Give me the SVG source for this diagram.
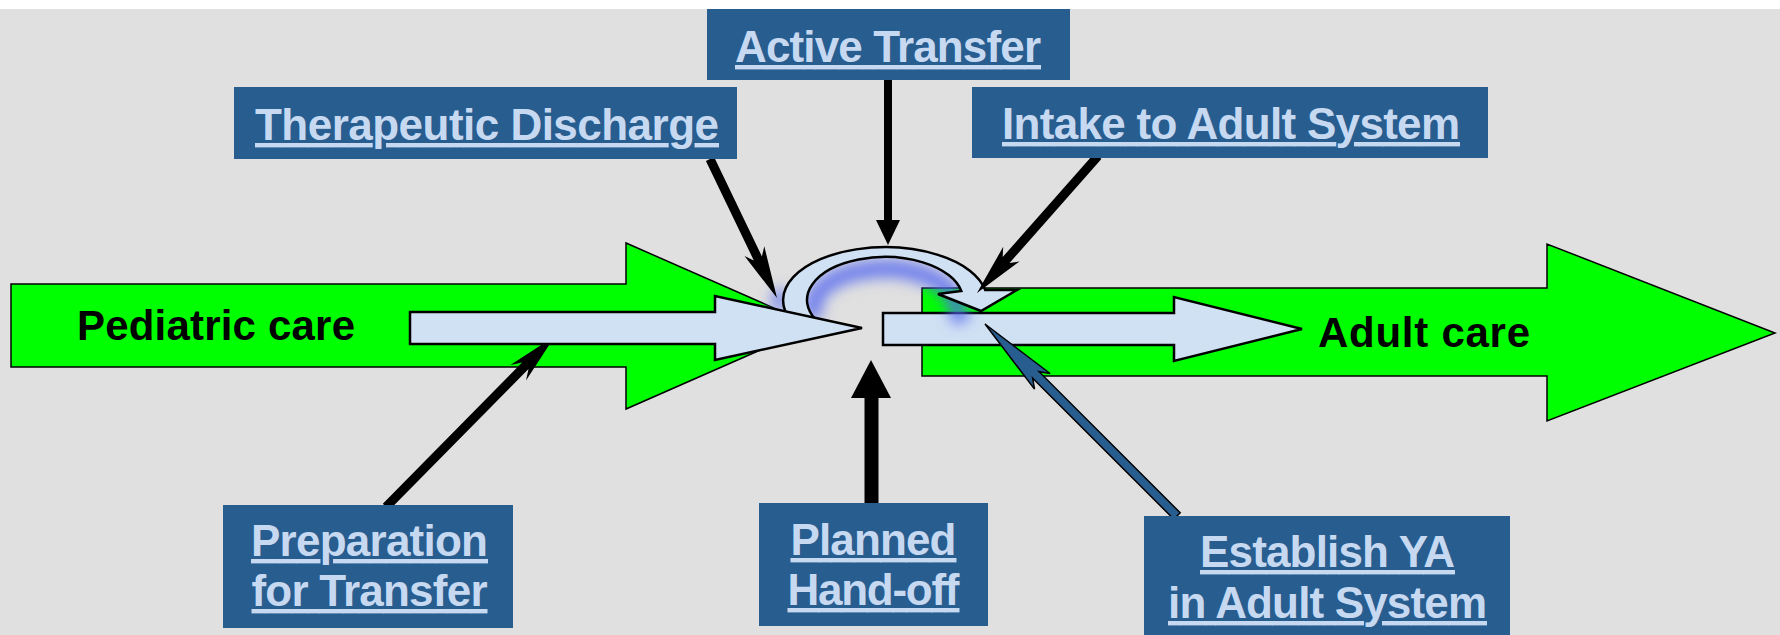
<svg xmlns="http://www.w3.org/2000/svg" width="1780" height="635" viewBox="0 0 1780 635">
  <style>
    .box { fill: #285d8f; }
    .lbl { font-family: "Liberation Sans", Arial, sans-serif; font-weight: bold; font-size: 44px; fill: #c6d9f1; text-anchor: middle; text-decoration: underline; }
    .care { font-family: "Liberation Sans", Arial, sans-serif; font-weight: bold; font-size: 42px; fill: #000000; }
    .green { fill: #00ff00; stroke: #000000; stroke-width: 1.5; stroke-linejoin: miter; }
    .pale { fill: #d0e1f3; stroke: #000000; stroke-width: 2.5; stroke-linejoin: miter; }
    .conn { fill: #000000; stroke: none; }
    .conn-blue { fill: #285d8f; stroke: #000000; stroke-width: 1.5; stroke-linejoin: miter; }
  </style>
  <defs>
    <filter id="soft" x="-40%" y="-40%" width="180%" height="180%">
      <feGaussianBlur stdDeviation="7"/>
    </filter>
  </defs>

  <!-- backdrop -->
  <rect x="0" y="0" width="1780" height="635" fill="#ffffff"/>
  <rect x="0" y="9" width="1780" height="626" fill="#e0e0e0"/>

  <!-- care pathways -->
  <g id="pediatric-care">
    <polygon class="green" points="11,284 626,284 626,243 815,326 626,409 626,367 11,367"/>
    <text class="care" x="77" y="340" textLength="278">Pediatric care</text>
  </g>
  <g id="adult-care">
    <polygon class="green" points="922,288 1547,288 1547,244 1775,333 1547,421 1547,376 922,376"/>
    <text class="care" x="1318" y="347" textLength="212">Adult care</text>
  </g>

  <!-- transfer flow -->
  <g id="adult-flow">
    <polygon class="pale" points="883,313 1174,313 1174,297 1302,329 1174,361 1174,345 883,345"/>
  </g>
  <g id="handoff-glow" filter="url(#soft)">
    <path d="M 816,318 A 71 38 0 1 1 953,296 L 962,322" fill="none" stroke="#5468f0" stroke-width="18" stroke-opacity="0.8"/>
    <ellipse cx="779" cy="300" rx="7" ry="12" fill="#5468f0" fill-opacity="0.8"/>
  </g>
  <g id="u-turn">
    <path class="pale" d="M 790.5,320 A 102 53 0 1 1 985.2,290 L 1017,290 L 981,311 L 938,294 L 961.3,291 A 78 43 0 1 0 816,320 Z"/>
  </g>
  <g id="pediatric-flow">
    <polygon class="pale" points="410,312 715,312 715,296 862,328 715,360 715,344 410,344"/>
  </g>

  <!-- connectors from each stage to the transfer point -->
  <g id="connectors">
    <!-- therapeutic discharge -->
    <polygon class="conn" points="705.9,161.0 753.8,260.4 744.5,255.9 777,298 764.3,246.3 761.9,256.4 714.1,157.0"/>
    <!-- active transfer -->
    <rect class="conn" x="884" y="78" width="8" height="144"/>
    <polygon class="conn" points="876,220 900,220 888,245"/>
    <!-- intake to adult system -->
    <polygon class="conn" points="1094.6,153.0 1002.7,257.0 1003.2,246.8 977,293 1019.6,261.4 1009.5,263.0 1101.4,159.0"/>
    <!-- preparation for transfer -->
    <polygon class="conn" points="389.2,510.2 528.5,368.9 526.0,380.6 549.8,344 542.7,344 510.4,365.0 522.1,362.5 382.8,503.8"/>
    <!-- planned hand-off -->
    <rect class="conn" x="864.5" y="396" width="14" height="110"/>
    <polygon class="conn" points="851,398 891,398 871,360"/>
    <!-- establish YA in adult system -->
    <polygon class="conn-blue" points="1180.2,512.8 1039.1,371.7 1050.1,373.5 985,324 1034.5,389.1 1032.7,378.1 1173.8,519.2"/>
  </g>

  <!-- stage labels -->
  <g id="active-transfer">
    <rect class="box" x="707" y="9" width="363" height="71"/>
    <text class="lbl" x="888" y="62" textLength="306">Active Transfer</text>
  </g>
  <g id="therapeutic-discharge">
    <rect class="box" x="234" y="87" width="503" height="72"/>
    <text class="lbl" x="487" y="140" textLength="464">Therapeutic Discharge</text>
  </g>
  <g id="intake-adult-system">
    <rect class="box" x="972" y="87" width="516" height="71"/>
    <text class="lbl" x="1231" y="139" textLength="458">Intake to Adult System</text>
  </g>
  <g id="preparation-for-transfer">
    <rect class="box" x="223" y="505" width="290" height="123"/>
    <text class="lbl" x="369.5" y="556" textLength="237">Preparation</text>
    <text class="lbl" x="369.5" y="606" textLength="236">for Transfer</text>
  </g>
  <g id="planned-hand-off">
    <rect class="box" x="759" y="503" width="229" height="123"/>
    <text class="lbl" x="873.5" y="555" textLength="166">Planned</text>
    <text class="lbl" x="873.5" y="605" textLength="172">Hand-off</text>
  </g>
  <g id="establish-ya">
    <rect class="box" x="1144" y="516" width="366" height="119"/>
    <text class="lbl" x="1327.5" y="567" textLength="255">Establish YA</text>
    <text class="lbl" x="1327.5" y="618" textLength="319">in Adult System</text>
  </g>
</svg>
